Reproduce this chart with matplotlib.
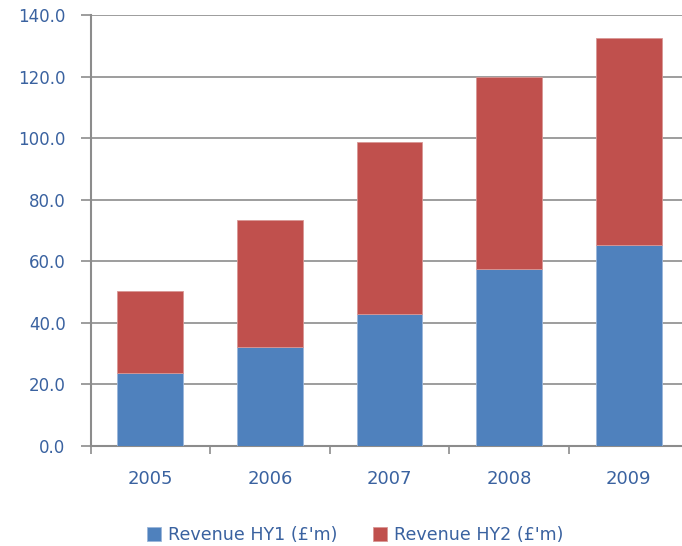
import matplotlib
matplotlib.use("Agg")
import matplotlib.pyplot as plt
import numpy as np
from matplotlib.ticker import FormatStrFormatter, FixedLocator

years = ["2005", "2006", "2007", "2008", "2009"]
revenue_hy1 = [23.8, 32.3, 43.0, 57.6, 65.2]
revenue_hy2 = [26.4, 41.2, 55.7, 62.3, 67.2]
y_ticks = [0, 20, 40, 60, 80, 100, 120, 140]

plt.rcParams["font.family"] = ["DejaVu Sans"]
text_color = "#3A62A0"
grid_color = "#8C8C8C"
blue = "#4F81BD"
red = "#C0504D"

fig = plt.figure(figsize=(6.82, 5.46), dpi=100)
ax = fig.add_axes([90.5 / 682, 100 / 546, 598 / 682, 431 / 546])

x = np.arange(len(years))
ax.bar(x, revenue_hy1, width=0.55, color=blue, edgecolor="#9BB6DA",
       linewidth=0.6, label="Revenue HY1 (£'m)", zorder=3)
ax.bar(x, revenue_hy2, width=0.55, bottom=revenue_hy1, color=red,
       edgecolor="#D99795", linewidth=0.6, label="Revenue HY2 (£'m)", zorder=3)

ax.set_xlim(-0.5, len(years) - 0.5)
ax.set_ylim(0, 140)
ax.set_yticks(y_ticks)
ax.yaxis.set_major_formatter(FormatStrFormatter("%.1f"))
ax.yaxis.grid(True, color=grid_color, linewidth=1.2, zorder=0)

# category labels centred on bars, ticks on category boundaries
ax.set_xticks(x)
ax.set_xticklabels(years)
ax.xaxis.set_minor_locator(FixedLocator(np.arange(-0.5, len(years), 1.0)))
ax.tick_params(axis="x", which="major", length=0, pad=17,
               labelsize=13, labelcolor=text_color)
ax.tick_params(axis="x", which="minor", length=6, width=1.2, color=grid_color)
ax.tick_params(axis="y", length=7, width=1.2, color=grid_color,
               labelsize=12, labelcolor=text_color, pad=11)

for side in ("top", "right"):
    ax.spines[side].set_visible(False)
for side in ("left", "bottom"):
    ax.spines[side].set_color(grid_color)
    ax.spines[side].set_linewidth(1.5)

leg = fig.legend(loc="center", bbox_to_anchor=(355 / 682, 1 - 535 / 546),
                 ncol=2, frameon=False, fontsize=12.6, handlelength=0.8,
                 handleheight=0.8, handletextpad=0.4, columnspacing=2.0)
for t in leg.get_texts():
    t.set_color(text_color)

fig.savefig("out.png", dpi=100)
